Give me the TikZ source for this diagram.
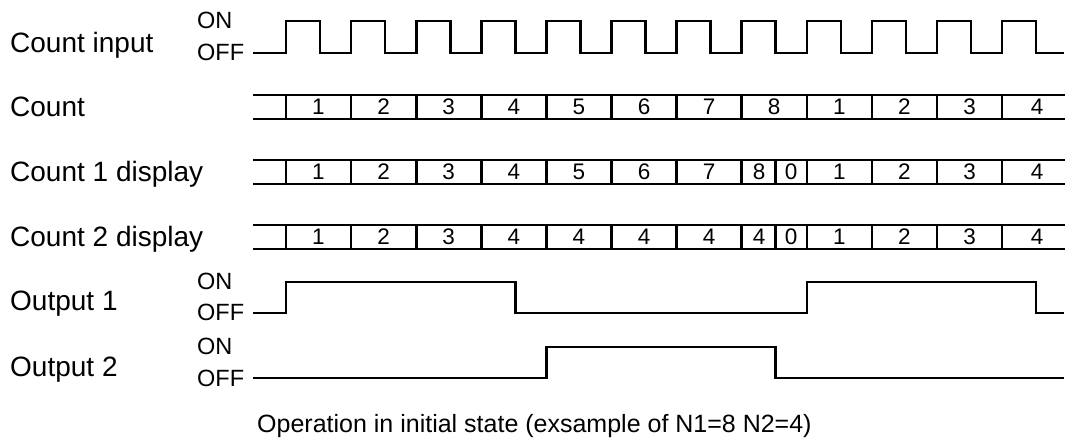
\documentclass[tikz,border=0pt]{standalone}
\usepackage{fontspec}
\setmainfont{Liberation Sans}
\begin{document}
\begin{tikzpicture}[x=1pt,y=-1pt,
  sig/.style={line width=2.6pt, line join=miter},
  lbl/.style={anchor=base west, inner sep=0pt, font=\fontsize{28}{32}\selectfont},
  lvl/.style={anchor=base west, inner sep=0pt, font=\fontsize{23.5}{27}\selectfont},
  dig/.style={anchor=base, inner sep=0pt, font=\fontsize{22.5}{26}\selectfont},
  captext/.style={anchor=base west, inner sep=0pt, font=\fontsize{25}{29}\selectfont}]
\useasboundingbox (0,0) rectangle (1065,443);
\def\per{65.1}
% ---------- labels ----------
\node[lbl] (lab-in)  at (10,53)  {Count input};
\node[lbl] (lab-cnt) at (10,117) {Count};
\node[lbl] (lab-c1)  at (10,182) {Count 1 display};
\node[lbl] (lab-c2)  at (10,247) {Count 2 display};
\node[lbl] (lab-o1)  at (10,311) {Output 1};
\node[lbl] (lab-o2)  at (10,376) {Output 2};
% ON / OFF
\node[lvl] (in-on)  at (197,29)  {ON};
\node[lvl] (in-off) at (197,61)  {OFF};
\node[lvl] (o1-on)  at (197,290) {ON};
\node[lvl] (o1-off) at (197,321) {OFF};
\node[lvl] (o2-on)  at (197,355) {ON};
\node[lvl] (o2-off) at (197,386) {OFF};
% ---------- count input ----------
\draw[sig] (253,53)
  \foreach \k in {0,...,11} {
    -- ({286+\per*\k},53) -- ({286+\per*\k},21) -- ({320+\per*\k},21) -- ({320+\per*\k},53)
  } -- (1064,53);
% ---------- buses ----------
\foreach \t/\b in {95/119,160/184,225/249} {
  \draw[sig] (253,\t) -- (1065,\t);
  \draw[sig] (253,\b) -- (1065,\b);
  \foreach \k in {0,...,11} \draw[sig] ({286+\per*\k},\t) -- ({286+\per*\k},\b);
}
\draw[sig] ({320+\per*7},160) -- ({320+\per*7},184);
\draw[sig] ({320+\per*7},225) -- ({320+\per*7},249);
% ---------- digits ----------
\foreach \v [count=\c] in {1,2,3,4,5,6,7,8,1,2,3}
  \node[dig] (cnt-\c) at ({286+\per*(\c-1)+32.5},115) {\v};
\node[dig] (cnt-12) at (1037,115) {4};
\foreach \v [count=\c] in {1,2,3,4,5,6,7}
  \node[dig] (ca-\c) at ({286+\per*(\c-1)+32.5},180) {\v};
\node[dig] (ca-8a) at (759,180) {8};
\node[dig] (ca-8b) at (791,180) {0};
\foreach \v [count=\c from 9] in {1,2,3}
  \node[dig] (ca-\c) at ({286+\per*(\c-1)+32.5},180) {\v};
\node[dig] (ca-12) at (1037,180) {4};
\foreach \v [count=\c] in {1,2,3,4,4,4,4}
  \node[dig] (cb-\c) at ({286+\per*(\c-1)+32.5},245) {\v};
\node[dig] (cb-8a) at (759,245) {4};
\node[dig] (cb-8b) at (791,245) {0};
\foreach \v [count=\c from 9] in {1,2,3}
  \node[dig] (cb-\c) at ({286+\per*(\c-1)+32.5},245) {\v};
\node[dig] (cb-12) at (1037,245) {4};
% ---------- outputs ----------
\draw[sig] (253,313) -- (286,313) -- (286,282) -- ({320+\per*3},282) -- ({320+\per*3},313)
  -- ({286+\per*8},313) -- ({286+\per*8},282) -- ({320+\per*11},282) -- ({320+\per*11},313) -- (1064,313);
\draw[sig] (253,378) -- ({286+\per*4},378) -- ({286+\per*4},347) -- ({320+\per*7},347)
  -- ({320+\per*7},378) -- (1064,378);
% ---------- caption ----------
\node[captext] (caption) at (257,432) {Operation in initial state (exsample of N1=8 N2=4)};
\end{tikzpicture}
\end{document}
